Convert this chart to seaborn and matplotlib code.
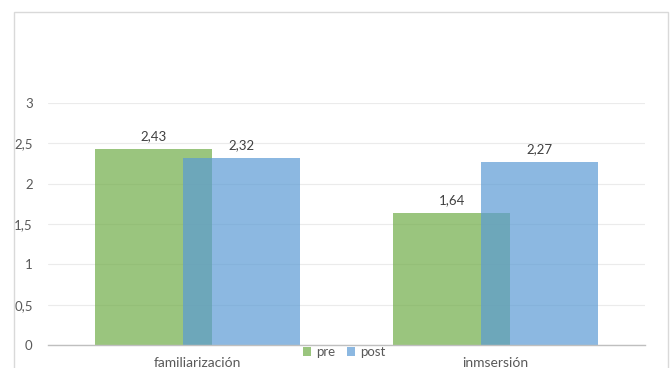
import matplotlib
matplotlib.use("Agg")
import matplotlib.pyplot as plt
from matplotlib.patches import Rectangle, Patch
import seaborn as sns
import pandas as pd

categories = ["familiarización", "inmsersión"]
pre_values = [2.43, 1.64]
post_values = [2.32, 2.27]
series_names = ["pre", "post"]
y_ticks = [0, 0.5, 1, 1.5, 2, 2.5, 3]

green = (0.439, 0.678, 0.278, 0.70)
blue = (0.357, 0.608, 0.835, 0.70)
text_col = "#595959"

sns.set_theme(style="white")
plt.rcParams["font.family"] = ["Lato", "DejaVu Sans"]

fig = plt.figure(figsize=(6.72, 3.68), dpi=100)
ax = fig.add_axes([48 / 672, 23 / 368, 597 / 672, 242 / 368])

bar_w = 0.392
offset = 0.147

df_pre = pd.DataFrame({"cat": categories, "val": pre_values})
df_post = pd.DataFrame({"cat": categories, "val": post_values})

sns.barplot(data=df_pre, x="cat", y="val", color=green, width=bar_w,
            saturation=1, ax=ax, errorbar=None)
n_pre = len(ax.patches)
sns.barplot(data=df_post, x="cat", y="val", color=blue, width=bar_w,
            saturation=1, ax=ax, errorbar=None)

for i, p in enumerate(ax.patches):
    p.set_facecolor(green if i < n_pre else blue)
    p.set_edgecolor("none")
    p.set_x(p.get_x() + (-offset if i < n_pre else offset))

for cont, vals in zip(ax.containers, [pre_values, post_values]):
    ax.bar_label(cont, labels=[f"{v:.2f}".replace(".", ",") for v in vals],
                 padding=5, fontsize=9.5, color="#404040")

ax.set_xlim(-0.5, 1.5)
ax.set_ylim(0, 3)
ax.set_yticks(y_ticks)
ax.set_yticklabels([f"{t:g}".replace(".", ",") for t in y_ticks],
                   fontsize=9.5, color=text_col)
ax.set_xlabel("")
ax.set_ylabel("")
ax.tick_params(axis="y", length=0, pad=11)
ax.tick_params(axis="x", length=0, pad=8.5, labelsize=10, labelcolor=text_col)
ax.grid(axis="y", color="#EBEBEB", linewidth=0.8)
ax.set_axisbelow(True)
for s in ["top", "right", "left"]:
    ax.spines[s].set_visible(False)
ax.spines["bottom"].set_color("#BFBFBF")
ax.spines["bottom"].set_linewidth(1.0)
ax.set_zorder(1)

handles = [Patch(facecolor=green, edgecolor="none"),
           Patch(facecolor=blue, edgecolor="none")]
fig.legend(handles, series_names, loc="center", bbox_to_anchor=(344 / 672, 1 - 352 / 368),
           ncol=2, frameon=False, fontsize=9.5, handlelength=0.6, handleheight=0.6,
           handletextpad=0.4, columnspacing=0.9, labelcolor=text_col)

fig.patches.append(Rectangle((14 / 672, -0.05), 654 / 672, 1.05 - 12 / 368,
                             transform=fig.transFigure, fill=False,
                             edgecolor="#D9D9D9", linewidth=1.0))

fig.savefig("out.png", dpi=100)
